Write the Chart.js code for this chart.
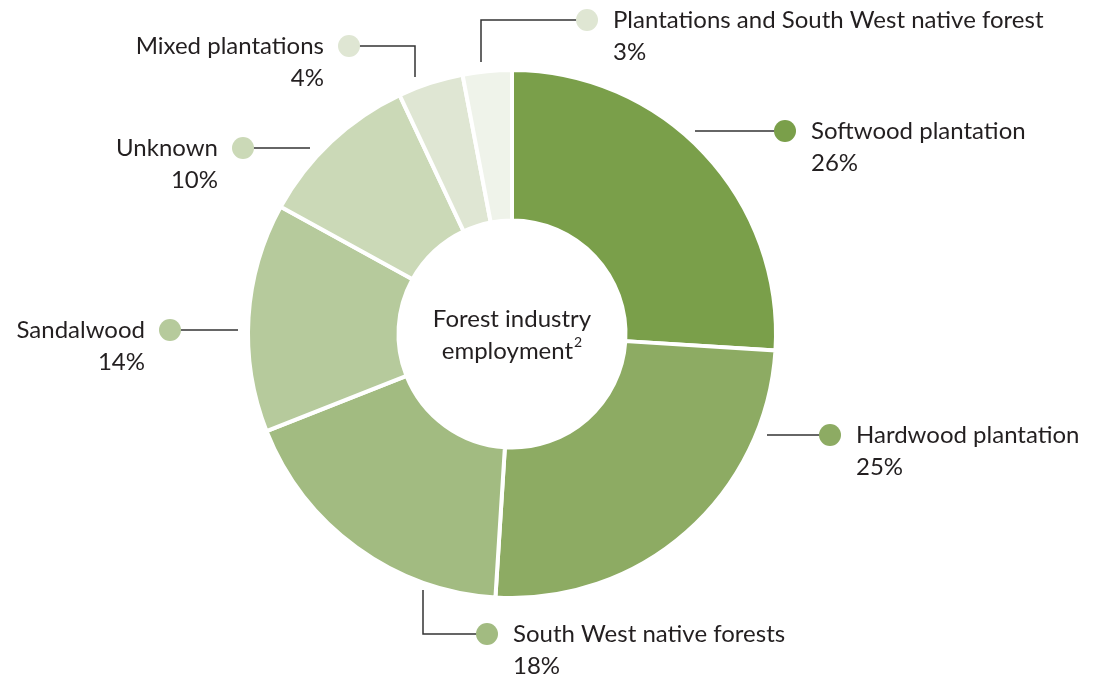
<!DOCTYPE html>
<html lang="en">
<head>
  <meta charset="UTF-8">
  <title>Forest industry employment</title>
  <script src="https://cdn.jsdelivr.net/npm/chart.js@4.4.1/dist/chart.umd.min.js"></script>
  <style>
    html, body { margin: 0; padding: 0; background: #fff; }
    #wrap { width: 1101px; height: 678px; }
  </style>
</head>
<body>
<div id="wrap"><canvas id="myChart" width="1101" height="678"></canvas></div>
<script>
    // employment share by forest source, clockwise from 12 o'clock
    const categories = [
      'Softwood plantation',
      'Hardwood plantation',
      'South West native forests',
      'Sandalwood',
      'Unknown',
      'Mixed plantations',
      'Plantations and South West native forest'
    ];
    const shares = [26, 25, 18, 14, 10, 4, 3];
    const sliceColours = ['#7a9f4a', '#8dab63', '#a2bb81', '#b6ca9c', '#cbd9b7', '#dfe6d3', '#eff3ea'];
    // the palest slice gets a slightly stronger dot so it shows on white
    const dotColours = ['#7a9f4a', '#8dab63', '#a2bb81', '#b6ca9c', '#cbd9b7', '#dfe6d3', '#dfe6d3'];

    // callout leaders: points relative to the ring centre, last point is the dot
    const callouts = [
      { pts: [[183, -203], [273, -203]], side: 'right' },
      { pts: [[255, 101], [318, 101]], side: 'right' },
      { pts: [[-89, 256], [-89, 300], [-25, 300]], side: 'right' },
      { pts: [[-274, -4], [-342, -4]], side: 'left' },
      { pts: [[-202, -186], [-269, -186]], side: 'left' },
      { pts: [[-97, -257], [-97, -288], [-163, -288]], side: 'left' },
      { pts: [[-31, -272], [-31, -314], [75, -314]], side: 'right' }
    ];

    const FONT = '24px Lato, "Open Sans", sans-serif';
    const SUP_FONT = '14px Lato, "Open Sans", sans-serif';
    const INK = '#231f20';

    const calloutPlugin = {
      id: 'callouts',
      afterDatasetsDraw: (chart) => {
        const ctx = chart.ctx;
        const meta = chart.getDatasetMeta(0);
        const cx = meta.data[0].x;
        const cy = meta.data[0].y;
        ctx.save();

        meta.data.forEach((arc, i) => {
          const c = callouts[i];
          const pts = c.pts.map(p => [cx + p[0], cy + p[1]]);
          const dot = pts[pts.length - 1];

          ctx.strokeStyle = '#333';
          ctx.lineWidth = 1.5;
          ctx.beginPath();
          ctx.moveTo(pts[0][0], pts[0][1]);
          for (let k = 1; k < pts.length; k++) ctx.lineTo(pts[k][0], pts[k][1]);
          ctx.stroke();

          ctx.fillStyle = dotColours[i];
          ctx.beginPath();
          ctx.arc(dot[0], dot[1], 11, 0, Math.PI * 2);
          ctx.fill();

          ctx.fillStyle = INK;
          ctx.font = FONT;
          ctx.textBaseline = 'middle';
          let tx;
          if (c.side === 'right') {
            ctx.textAlign = 'left';
            tx = dot[0] + 26;
          } else {
            ctx.textAlign = 'right';
            tx = dot[0] - 25;
          }
          ctx.fillText(categories[i], tx, dot[1]);
          ctx.fillText(shares[i] + '%', tx, dot[1] + 32);
        });

        // centre caption with superscript note marker
        ctx.fillStyle = INK;
        ctx.font = FONT;
        ctx.textBaseline = 'middle';
        ctx.textAlign = 'center';
        ctx.fillText('Forest industry', cx, cy - 15);
        const word = 'employment';
        const w = ctx.measureText(word).width;
        ctx.font = SUP_FONT;
        const sw = ctx.measureText('2').width;
        ctx.font = FONT;
        ctx.textAlign = 'left';
        const x0 = cx - (w + sw + 1) / 2;
        ctx.fillText(word, x0, cy + 17);
        ctx.font = SUP_FONT;
        ctx.fillText('2', x0 + w + 1, cy + 8);

        ctx.restore();
      }
    };

    var ctx = document.getElementById('myChart');
    var myChart = new Chart(ctx, {
      type: 'doughnut',
      data: {
        labels: categories,
        datasets: [{
          data: shares,
          backgroundColor: sliceColours,
          borderColor: '#ffffff',
          borderWidth: 4
        }]
      },
      options: {
        responsive: false,
        animation: false,
        radius: 264,
        cutout: '43%',
        layout: { padding: { left: 0, right: 77, top: 0, bottom: 10 } },
        plugins: {
          legend: { display: false },
          tooltip: { enabled: false }
        }
      },
      plugins: [calloutPlugin]
    });
</script>
</body>
</html>
